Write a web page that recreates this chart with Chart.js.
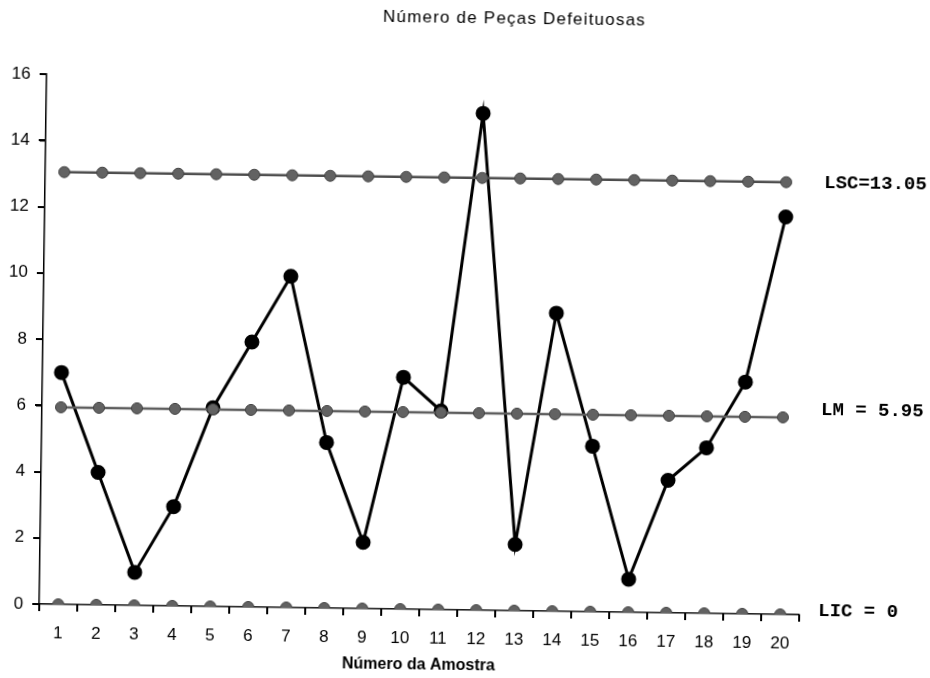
<!DOCTYPE html>
<html>
<head>
<meta charset="utf-8">
<title>Número de Peças Defeituosas</title>
<script src="https://cdn.jsdelivr.net/npm/chart.js@4.4.1/dist/chart.umd.min.js"></script>
<style>
  html, body { margin: 0; padding: 0; background: #fff; }
  #wrap { width: 930px; height: 678px; overflow: hidden; }
  /* the scanned original is a little tilted */
  #chart { transform: rotate(0.8deg); transform-origin: 465px 339px; }
</style>
</head>
<body>
<div id="wrap"><canvas id="chart" width="930" height="678"></canvas></div>
<script>
var amostras = ['1','2','3','4','5','6','7','8','9','10','11','12','13','14','15','16','17','18','19','20'];
var defeituosas = [7, 4, 1, 3, 6, 8, 10, 5, 2, 7, 6, 15, 2, 9, 5, 1, 4, 5, 7, 12];
var lsc = [13.05, 13.05, 13.05, 13.05, 13.05, 13.05, 13.05, 13.05, 13.05, 13.05, 13.05, 13.05, 13.05, 13.05, 13.05, 13.05, 13.05, 13.05, 13.05, 13.05];
var lm = [5.95, 5.95, 5.95, 5.95, 5.95, 5.95, 5.95, 5.95, 5.95, 5.95, 5.95, 5.95, 5.95, 5.95, 5.95, 5.95, 5.95, 5.95, 5.95, 5.95];
var lic = [0, 0, 0, 0, 0, 0, 0, 0, 0, 0, 0, 0, 0, 0, 0, 0, 0, 0, 0, 0];
var rotulos = ['LSC=13.05', 'LM = 5.95', 'LIC = 0'];
var yTicks = [0, 2, 4, 6, 8, 10, 12, 14, 16];

var titulo = 'Número de Peças Defeituosas';

// title drawn by hand, it sits right of centre in the original
var tituloPlugin = {
  id: 'tituloPlugin',
  afterDraw: function(chart) {
    var ctx = chart.ctx;
    ctx.save();
    ctx.font = '17px "Liberation Sans", Arial, sans-serif';
    ctx.letterSpacing = '1.2px';
    ctx.fillStyle = '#000';
    ctx.textAlign = 'center';
    ctx.textBaseline = 'middle';
    ctx.fillText(titulo, 510, 18);
    ctx.restore();
  }
};

// small outside tick marks on both axes (x ticks sit between samples)
var marcasPlugin = {
  id: 'marcasPlugin',
  afterDraw: function(chart) {
    var ctx = chart.ctx;
    var xs = chart.scales.x, ys = chart.scales.y;
    var area = chart.chartArea;
    var passo = xs.getPixelForValue(1) - xs.getPixelForValue(0);
    ctx.save();
    ctx.strokeStyle = '#000';
    ctx.lineWidth = 2;
    ctx.beginPath();
    ys.ticks.forEach(function(t) {
      var y = Math.round(ys.getPixelForValue(t.value));
      ctx.moveTo(area.left - 7, y);
      ctx.lineTo(area.left, y);
    });
    for (var i = 0; i <= amostras.length; i++) {
      var x = Math.round(xs.getPixelForValue(i) - passo / 2);
      ctx.moveTo(x, area.bottom);
      ctx.lineTo(x, area.bottom + 7);
    }
    ctx.stroke();
    ctx.restore();
  }
};

// LSC / LM / LIC labels at the right end of each control line
var rotuloPlugin = {
  id: 'rotuloPlugin',
  afterDatasetsDraw: function(chart) {
    var ctx = chart.ctx;
    var area = chart.chartArea;
    var yScale = chart.scales.y;
    var ajuste = [0, -8, -4];
    ctx.save();
    ctx.font = 'bold 19px "Liberation Mono", "DejaVu Sans Mono", monospace';
    ctx.fillStyle = '#000';
    ctx.textAlign = 'left';
    ctx.textBaseline = 'middle';
    [lsc, lm, lic].forEach(function(serie, i) {
      var y = yScale.getPixelForValue(serie[serie.length - 1]);
      ctx.fillText(rotulos[i], area.right + 19, y + ajuste[i]);
    });
    ctx.restore();
  }
};

var controle = {
  pointRadius: 5.5,
  pointBackgroundColor: '#626262',
  pointBorderColor: '#444',
  pointBorderWidth: 1,
  tension: 0,
  order: 0
};

var ctx = document.getElementById('chart').getContext('2d');
var chart = new Chart(ctx, {
  type: 'line',
  data: {
    labels: amostras,
    datasets: [
      {
        label: 'Defeituosas',
        data: defeituosas,
        borderColor: '#000',
        borderWidth: 3,
        pointRadius: 6,
        pointBackgroundColor: '#000',
        pointBorderColor: '#000',
        tension: 0,
        order: 1
      },
      Object.assign({ label: 'LSC', data: lsc, borderColor: '#4d4d4d', borderWidth: 2.5 }, controle),
      Object.assign({ label: 'LM', data: lm, borderColor: '#5e5e5e', borderWidth: 2.5 }, controle),
      Object.assign({ label: 'LIC', data: lic, borderColor: '#2a2a2a', borderWidth: 1.5 }, controle)
    ]
  },
  options: {
    responsive: false,
    animation: false,
    devicePixelRatio: 1,
    layout: { padding: { top: 80, right: 127, left: 0, bottom: 0 } },
    plugins: {
      legend: { display: false },
      tooltip: { enabled: false },
      title: { display: false }
    },
    scales: {
      x: {
        offset: true,
        grid: { offset: true, drawOnChartArea: false, color: '#000', lineWidth: 1.5, tickLength: 6 },
        border: { color: '#000', width: 1.5 },
        ticks: {
          color: '#000',
          padding: 13,
          maxRotation: 0,
          font: { family: '"Liberation Sans", Arial, sans-serif', size: 17 }
        },
        title: {
          display: true,
          text: 'Número da Amostra',
          color: '#000',
          padding: 3,
          font: { family: '"Liberation Sans Narrow", "Liberation Sans", Arial, sans-serif', size: 16, weight: 'bold' }
        },
        afterFit: function(scale) { scale.height = 68; }
      },
      y: {
        min: 0,
        max: 16,
        afterBuildTicks: function(scale) {
          scale.ticks = yTicks.map(function(v) { return { value: v }; });
        },
        grid: { drawOnChartArea: false, color: '#000', lineWidth: 1.5, tickLength: 6 },
        border: { color: '#000', width: 1.5 },
        ticks: {
          color: '#000',
          padding: 10,
          font: { family: '"Liberation Sans", Arial, sans-serif', size: 17 }
        },
        afterFit: function(scale) { scale.width = 43; }
      }
    }
  },
  plugins: [tituloPlugin, marcasPlugin, rotuloPlugin]
});
</script>
</body>
</html>
